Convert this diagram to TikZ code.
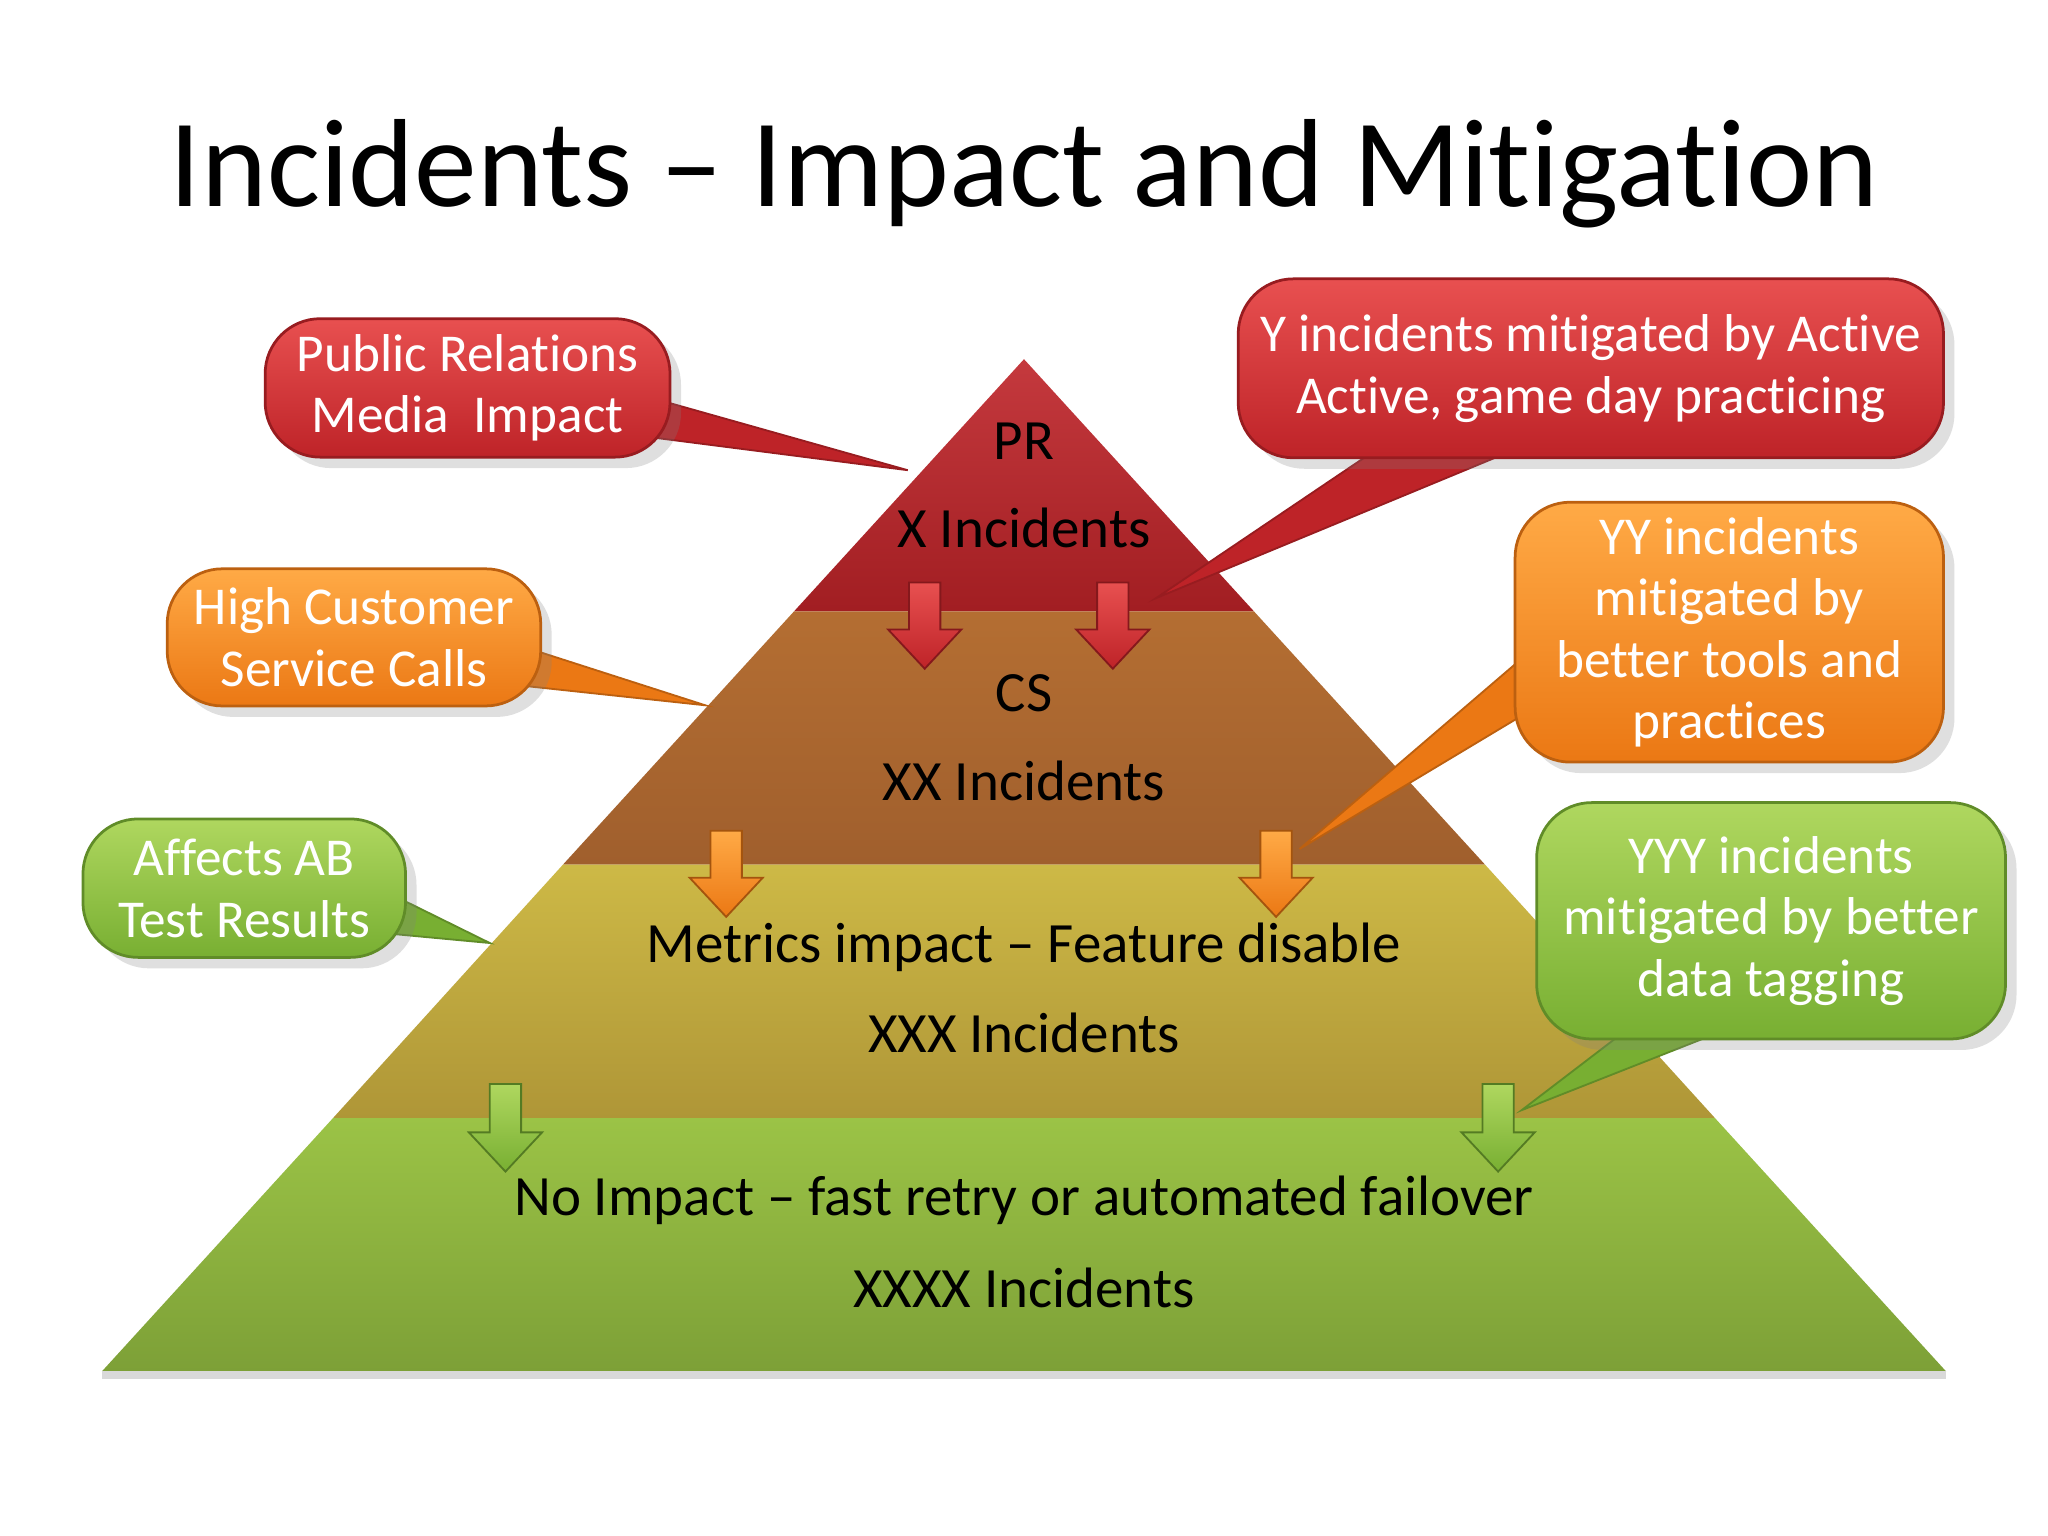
\documentclass[tikz,border=0pt]{standalone}
\usepackage{fontspec}
\setmainfont[RawFeature=-liga]{Carlito}
\usetikzlibrary{shadows}
\definecolor{redA}{RGB}{232,80,80}\definecolor{redB}{RGB}{190,35,40}
\definecolor{orA}{RGB}{255,170,70}\definecolor{orB}{RGB}{235,120,20}
\definecolor{grA}{RGB}{175,215,95}\definecolor{grB}{RGB}{120,175,50}
\tikzset{
 call/.style={rounded corners=12pt,draw=#1B!80!black,line width=0.6pt,top color=#1A,bottom color=#1B,text=white,align=center,font=\fontsize{11.6}{13.4}\selectfont,drop shadow={opacity=0.25},inner sep=0pt},
 ptr/.style={fill=#1B,draw=#1B!80!black,line width=0.4pt},
 lbl/.style={font=\fontsize{12.4}{15}\selectfont,text=black},
 darr/.style={top color=#1A,bottom color=#1B,draw=#1B!70!black,line width=0.4pt}
}
\newcommand{\downarr}[4]{% x, ytop, ybot, color
 \path[darr=#4] (#1-12,#2) -- (#1+12,#2) -- (#1+12,#3-30) -- (#1+28,#3-30) -- (#1,#3) -- (#1-28,#3-30) -- (#1-12,#3-30) -- cycle;}
\begin{document}
\begin{tikzpicture}[x=0.01cm,y=-0.01cm]
\useasboundingbox (0,0) rectangle (1568,1176);
\fill[white] (0,0) rectangle (1568,1176);
\node[font=\fontsize{27.3}{32}\selectfont] (title) at (784,133) {Incidents – Impact and Mitigation};
% pyramid
\coordinate (apex) at (784,275);
\shade[top color=redB!90!white,bottom color=redB!85!black] (apex) -- (960,468) -- (608,468) -- cycle;
\shade[top color={rgb,255:red,180;green,110;blue,50},bottom color={rgb,255:red,160;green,95;blue,45}] (608,468) -- (960,468) -- (1137,662) -- (431,662) -- cycle;
\shade[top color={rgb,255:red,205;green,185;blue,70},bottom color={rgb,255:red,175;green,150;blue,55}] (431,662) -- (1137,662) -- (1313,856) -- (255,856) -- cycle;
\shade[top color={rgb,255:red,155;green,195;blue,70},bottom color={rgb,255:red,125;green,160;blue,55}] (255,856) -- (1313,856) -- (1490,1050) -- (78,1050) -- cycle;
\fill[black!15] (78,1050) rectangle (1490,1056);
% labels
\node[lbl] (pr) at (784,338) {PR};
\node[lbl] (x) at (784,404) {X Incidents};
\node[lbl] (cs) at (784,531) {CS};
\node[lbl] (xx) at (784,598) {XX Incidents};
\node[lbl] (mi) at (784,725) {Metrics impact – Feature disable};
\node[lbl] (xxx) at (784,791) {XXX Incidents};
\node[lbl] (ni) at (784,919) {No Impact – fast retry or automated failover};
\node[lbl] (xxxx) at (784,986) {XXXX Incidents};
% arrows
\downarr{708}{446}{512}{red}
\downarr{852}{446}{512}{red}
\downarr{556}{636}{702}{or}
\downarr{977}{636}{702}{or}
\downarr{387}{830}{897}{gr}
\downarr{1147}{830}{897}{gr}
% callouts: pointers first
\coordinate (p1) at (695,360); \coordinate (p2) at (885,458); \coordinate (p3) at (540,540);
\coordinate (p4) at (995,650); \coordinate (p5) at (375,722); \coordinate (p6) at (1165,850);
\path[ptr=red] (500,305) -- (p1) -- (500,335) -- cycle;
\path[ptr=red] (1060,340) -- (p2) -- (1170,340) -- cycle;
\path[ptr=or] (400,495) -- (p3) -- (400,525) -- cycle;
\path[ptr=or] (1170,500) -- (p4) -- (1170,545) -- cycle;
\path[ptr=gr] (300,685) -- (p5) -- (300,715) -- cycle;
\path[ptr=gr] (1250,785) -- (p6) -- (1330,785) -- cycle;
\node[call=red,minimum width=310*0.01cm,minimum height=106*0.01cm] (c1) at (358,297) {Public Relations\\Media\ \ Impact};
\node[call=red,minimum width=540*0.01cm,minimum height=137*0.01cm] (c2) at (1218,282) {Y incidents mitigated by Active\\Active, game day practicing};
\node[call=or,minimum width=286*0.01cm,minimum height=105*0.01cm] (c3) at (271,488) {High Customer\\Service Calls};
\node[call=or,minimum width=328*0.01cm,minimum height=199*0.01cm] (c4) at (1324,484) {YY incidents\\mitigated by\\better tools and\\practices};
\node[call=gr,minimum width=247*0.01cm,minimum height=106*0.01cm] (c5) at (187,680) {Affects AB\\Test Results};
\node[call=gr,minimum width=359*0.01cm,minimum height=181*0.01cm] (c6) at (1356,705) {YYY incidents\\mitigated by better\\data tagging};
\end{tikzpicture}
\end{document}
